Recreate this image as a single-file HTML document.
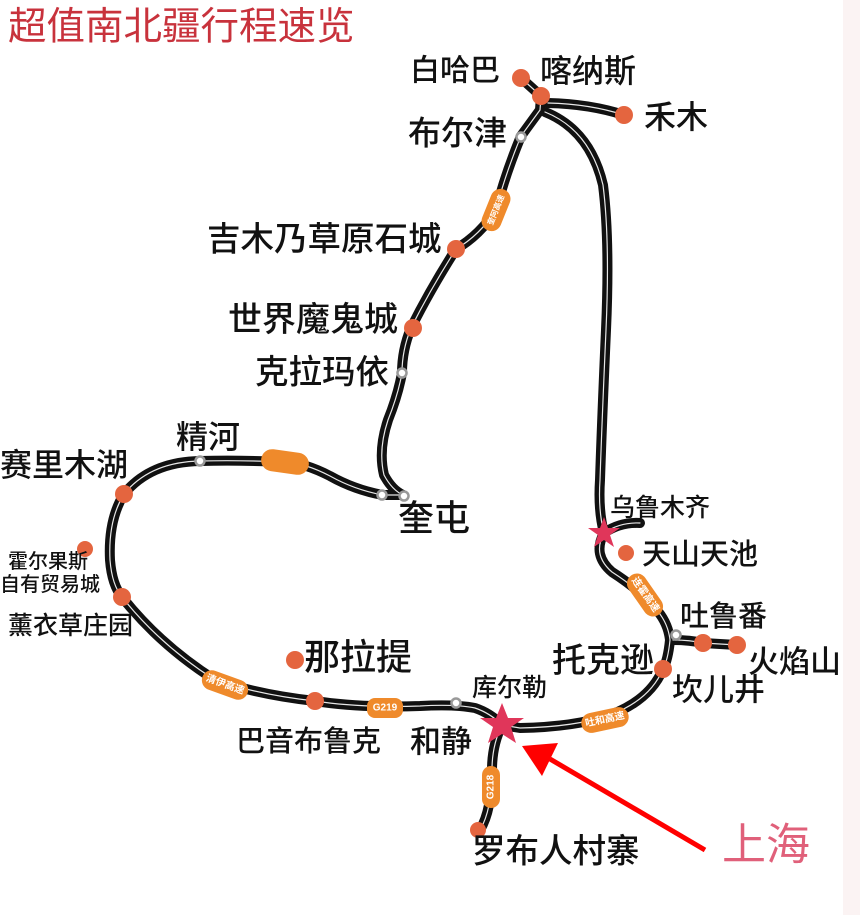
<!DOCTYPE html>
<html><head><meta charset="utf-8"><style>
html,body{margin:0;padding:0;background:#fff;}
svg{display:block;}
text{font-family:"Liberation Sans","Noto Sans CJK SC",sans-serif;font-weight:500;fill:#111;dominant-baseline:central;}
.rd{fill:none;stroke:#111;stroke-width:10;stroke-linecap:round;stroke-linejoin:round;}
.ln{fill:none;stroke:#fff;stroke-width:1.2;stroke-linecap:round;opacity:.9;}
.dot{fill:#e4653f;}
.st{fill:#fff;stroke:#999;stroke-width:2.5;}
.bd{fill:#ef8a2b;}
.bt{fill:#fff;font-size:10px;font-weight:700;}
</style></head><body>
<svg width="860" height="915" viewBox="0 0 860 915" xmlns="http://www.w3.org/2000/svg">
<rect x="843" y="0" width="17" height="915" fill="#fbf3f3"/>
<text x="8" y="27" style="font-size:38.5px;fill:#c8323c;font-weight:400">超值南北疆行程速览</text>
<g id="roads">
<path d="M521,78 L541,96 L540,110 L521,136 Q505,175 496,210 Q480,235 456,249 Q430,290 411,328 Q402,350 402,373 Q398,395 388,420 Q378,450 384,475 Q392,490 403,495"/>
<path d="M548,103 Q590,104 624,115"/>
<path d="M545,112 Q590,130 603,185 Q610,240 606,330 Q602,420 600,480 Q598,510 604,533"/>
<path d="M604,533 Q620,522 640,523"/>
<path d="M604,533 Q592,555 612,572 Q640,590 655,608 Q668,622 670,640 Q668,660 663,669 Q650,700 610,715 Q575,727 520,728 L502,725"/>
<path d="M673,640 Q690,640 703,643 L737,645"/>
<path d="M403,495 L383,495 Q355,490 330,476 Q305,463 285,462 Q240,460 200,461 Q150,462 124,494 Q108,520 110,560 Q112,585 122,597 Q160,645 215,680 Q260,695 315,701 Q360,708 420,706 Q455,704 475,708 Q490,713 502,725"/>
<path d="M502,725 Q492,745 492,770 Q492,810 480,830"/>
</g>
<use href="#roads" class="rd"/>
<g class="ln">
<use href="#roads"/>
</g>
<style>#roads path{fill:none}</style>
<g transform="translate(496,210) rotate(-68)"><rect x="-22" y="-10" width="44" height="20" rx="10" class="bd"/><text x="0" y="0" class="bt" text-anchor="middle" style="font-size:8px">奎阿高速</text></g>
<rect x="261" y="451" width="48" height="22" rx="11" class="bd" transform="rotate(8 285 462)"/>
<g transform="translate(225,685) rotate(20)"><rect x="-24" y="-10" width="48" height="20" rx="10" class="bd"/><text x="0" y="0" class="bt" text-anchor="middle">清伊高速</text></g>
<g transform="translate(385,708)"><rect x="-18" y="-10" width="36" height="20" rx="8" class="bd"/><text x="0" y="0" class="bt" text-anchor="middle">G219</text></g>
<g transform="translate(645,595) rotate(55)"><rect x="-24" y="-10" width="48" height="20" rx="10" class="bd"/><text x="0" y="0" class="bt" text-anchor="middle">连霍高速</text></g>
<g transform="translate(605,720) rotate(-12)"><rect x="-24" y="-10" width="48" height="20" rx="10" class="bd"/><text x="0" y="0" class="bt" text-anchor="middle">吐和高速</text></g>
<g transform="translate(491,787) rotate(-90)"><rect x="-21" y="-9" width="42" height="18" rx="9" class="bd"/><text x="0" y="0" class="bt" text-anchor="middle">G218</text></g>
<circle cx="478" cy="830" r="8" class="dot"/>
<circle cx="521" cy="78" r="9" class="dot"/>
<circle cx="541" cy="96" r="9" class="dot"/>
<circle cx="624" cy="115" r="9" class="dot"/>
<circle cx="456" cy="249" r="9" class="dot"/>
<circle cx="413" cy="328" r="9" class="dot"/>
<circle cx="124" cy="494" r="9" class="dot"/>
<circle cx="85" cy="549" r="8" class="dot"/>
<circle cx="122" cy="597" r="9" class="dot"/>
<circle cx="295" cy="660" r="9" class="dot"/>
<circle cx="315" cy="701" r="9" class="dot"/>
<circle cx="626" cy="553" r="8" class="dot"/>
<circle cx="703" cy="643" r="9" class="dot"/>
<circle cx="737" cy="645" r="9" class="dot"/>
<circle cx="663" cy="669" r="9" class="dot"/>
<circle cx="521" cy="137" r="4.5" class="st"/>
<circle cx="402" cy="373" r="4.5" class="st"/>
<circle cx="200" cy="461" r="4.5" class="st"/>
<circle cx="382" cy="495" r="4.5" class="st"/>
<circle cx="404" cy="496" r="4.5" class="st"/>
<circle cx="456" cy="703" r="4.5" class="st"/>
<circle cx="676" cy="635" r="4.5" class="st"/>
<polygon points="604,517 608,528 620,528 610,535 614,547 604,540 594,547 598,535 588,528 600,528" fill="#e0365a"/>
<polygon points="502,703 508,718 524,718 511,727 516,743 502,734 488,743 493,727 480,718 496,718" fill="#e0365a"/>
<line x1="705" y1="850" x2="550" y2="759" stroke="#f00" stroke-width="5"/>
<polygon points="522,746 558,743 542,776" fill="#f00"/>
<text x="410" y="71" style="font-size:30px">白哈巴</text>
<text x="540" y="71" style="font-size:32px">喀纳斯</text>
<text x="644" y="117" style="font-size:32px">禾木</text>
<text x="408" y="133" style="font-size:33px">布尔津</text>
<text x="207" y="240" style="font-size:33.5px">吉木乃草原石城</text>
<text x="228" y="320" style="font-size:34px">世界魔鬼城</text>
<text x="255" y="373" style="font-size:33.5px">克拉玛依</text>
<text x="176" y="437" style="font-size:32px">精河</text>
<text x="0" y="465" style="font-size:32px">赛里木湖</text>
<text x="8" y="562" style="font-size:20px">霍尔果斯</text>
<text x="0" y="585" style="font-size:20px">自有贸易城</text>
<text x="8" y="626" style="font-size:25px">薰衣草庄园</text>
<text x="304" y="657" style="font-size:36px">那拉提</text>
<text x="236" y="742" style="font-size:29px">巴音布鲁克</text>
<text x="410" y="742" style="font-size:31px">和静</text>
<text x="472" y="688" style="font-size:25px">库尔勒</text>
<text x="472" y="852" style="font-size:33.5px">罗布人村寨</text>
<text x="722" y="845" style="font-size:44px;fill:#e0607a;font-weight:400">上海</text>
<text x="398" y="518" style="font-size:36px">奎屯</text>
<text x="610" y="508" style="font-size:25px">乌鲁木齐</text>
<text x="642" y="555" style="font-size:29px">天山天池</text>
<text x="680" y="617" style="font-size:29px">吐鲁番</text>
<text x="748" y="662" style="font-size:31px">火焰山</text>
<text x="552" y="661" style="font-size:34px">托克逊</text>
<text x="672" y="690" style="font-size:31px">坎儿井</text>
</svg>
</body></html>
